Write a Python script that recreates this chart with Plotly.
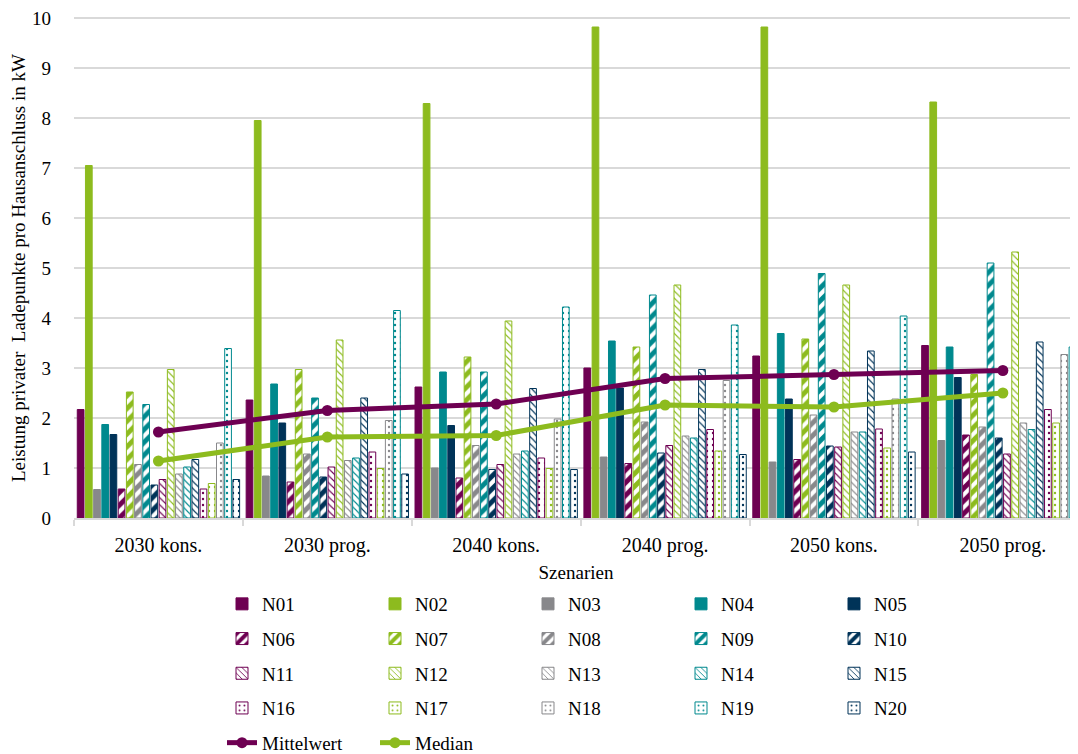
import plotly.graph_objects as go

scenarios = ["2030 kons.", "2030 prog.", "2040 kons.", "2040 prog.", "2050 kons.", "2050 prog."]

N01 = [2.17, 2.36, 2.62, 3.00, 3.24, 3.45]
N02 = [7.05, 7.95, 8.29, 9.82, 9.82, 8.32]
N03 = [0.57, 0.84, 1.00, 1.22, 1.12, 1.55]
N04 = [1.87, 2.68, 2.92, 3.54, 3.69, 3.42]
N05 = [1.67, 1.90, 1.85, 2.60, 2.38, 2.81]
N06 = [0.58, 0.72, 0.80, 1.09, 1.17, 1.66]
N07 = [2.52, 2.97, 3.22, 3.42, 3.58, 2.87]
N08 = [1.07, 1.28, 1.45, 1.92, 2.06, 1.82]
N09 = [2.27, 2.40, 2.92, 4.46, 4.89, 5.10]
N10 = [0.66, 0.82, 0.97, 1.30, 1.44, 1.60]
N11 = [0.77, 1.02, 1.07, 1.45, 1.42, 1.28]
N12 = [2.97, 3.56, 3.94, 4.66, 4.66, 5.32]
N13 = [0.88, 1.15, 1.28, 1.64, 1.72, 1.90]
N14 = [1.02, 1.20, 1.34, 1.60, 1.72, 1.77]
N15 = [1.17, 2.40, 2.59, 2.97, 3.34, 3.52]
N16 = [0.58, 1.32, 1.20, 1.77, 1.78, 2.17]
N17 = [0.69, 0.99, 0.99, 1.34, 1.40, 1.90]
N18 = [1.50, 1.95, 1.98, 2.75, 2.38, 3.27]
N19 = [3.39, 4.15, 4.22, 3.86, 4.04, 3.42]
N20 = [0.77, 0.88, 0.97, 1.27, 1.32, 1.45]

mittelwert = [1.72, 2.15, 2.28, 2.79, 2.87, 2.95]
median = [1.14, 1.62, 1.65, 2.26, 2.22, 2.50]

y_title = "Leistung privater  Ladepunkte pro Hausanschluss in kW"
x_title = "Szenarien"
y_ticks = list(range(0, 11))

series_names = ["N%02d" % i for i in range(1, 21)]
series_values = [N01, N02, N03, N04, N05, N06, N07, N08, N09, N10,
                 N11, N12, N13, N14, N15, N16, N17, N18, N19, N20]

colors = ["#6E0052", "#8DBB1E", "#88888B", "#00898E", "#003358"]
patterns = [
    None,
    dict(shape="/", size=9, solidity=0.55),
    dict(shape="\\", size=5, solidity=0.22),
    dict(shape=".", size=6, solidity=0.12),
]

FONT = "Liberation Serif"
# page body has an 8px margin; compensate so the plot sits where the reference has it
L, R, T, B = 66, 0, 8, 236
W, H = 1070, 746
PW = W - L - R
PH = H - T - B

def legend_name(col):
    return "legend" if col == 0 else "legend%d" % (col + 1)

fig = go.Figure()
for i, (name, vals) in enumerate(zip(series_names, series_values)):
    col = i % 5
    c = colors[col]
    p = patterns[i // 5]
    marker = dict(color=c, line=dict(color=c, width=1))
    if p is not None:
        marker = dict(color="white", line=dict(color=c, width=1),
                      pattern=dict(shape=p["shape"], size=p["size"], solidity=p["solidity"],
                                   fgcolor=c, bgcolor="white", fillmode="replace"))
    fig.add_trace(go.Bar(x=scenarios, y=vals, name=name, marker=marker,
                         legend=legend_name(col), legendgroup=name))

fig.add_trace(go.Scatter(x=scenarios, y=mittelwert, name="Mittelwert", mode="lines+markers",
                         line=dict(color=colors[0], width=5), marker=dict(size=11, color=colors[0]),
                         legend="legend", legendgroup="Mittelwert"))
fig.add_trace(go.Scatter(x=scenarios, y=median, name="Median", mode="lines+markers",
                         line=dict(color=colors[1], width=5), marker=dict(size=11, color=colors[1]),
                         legend="legend2", legendgroup="Median"))

legend_px = [214, 367, 520, 673, 826]
legend_top = 577
legends = {}
for col, px in enumerate(legend_px):
    legends[legend_name(col)] = dict(
        x=(px - L) / PW, xanchor="left",
        y=(H - B - legend_top) / PH, yanchor="top",
        orientation="v", tracegroupgap=7,
        font=dict(family=FONT, size=19, color="black"),
        bgcolor="rgba(0,0,0,0)", borderwidth=0,
    )

fig.update_layout(
    width=W, height=H,
    margin=dict(l=L, r=R, t=T, b=B, pad=0, autoexpand=False),
    paper_bgcolor="white", plot_bgcolor="white",
    barmode="group", bargap=0.03, bargroupgap=0.18,
    font=dict(family=FONT, size=19, color="black"),
    showlegend=True,
    xaxis=dict(type="category", range=[-0.5, 5.445], tickson="boundaries",
               ticks="outside", ticklen=6, tickcolor="#D9D9D9", tickwidth=1.5,
               showline=True, linecolor="#D9D9D9", linewidth=1.5, showgrid=False,
               ticklabelstandoff=8, automargin=False,
               tickfont=dict(family=FONT, size=20, color="black"),
               title=dict(text=x_title, font=dict(family=FONT, size=19, color="black"), standoff=10)),
    yaxis=dict(range=[0, 10.04], tickvals=y_ticks, showgrid=True,
               gridcolor="#D9D9D9", gridwidth=1.5,
               zeroline=False, showline=False, ticks="", ticklabelstandoff=22, automargin=False,
               ticklabeloverflow="allow",
               tickfont=dict(family=FONT, size=19, color="black")),
    annotations=[dict(text=y_title, textangle=-90, xref="paper", yref="paper",
                      x=(18 - 8 - L) / PW, y=(268 - 8 - T) / PH and 1 - (268 - 8 - T) / PH,
                      xanchor="center", yanchor="middle",
                      showarrow=False, font=dict(family=FONT, size=19, color="black"))],
    **legends,
)

fig.write_html("out.html")
